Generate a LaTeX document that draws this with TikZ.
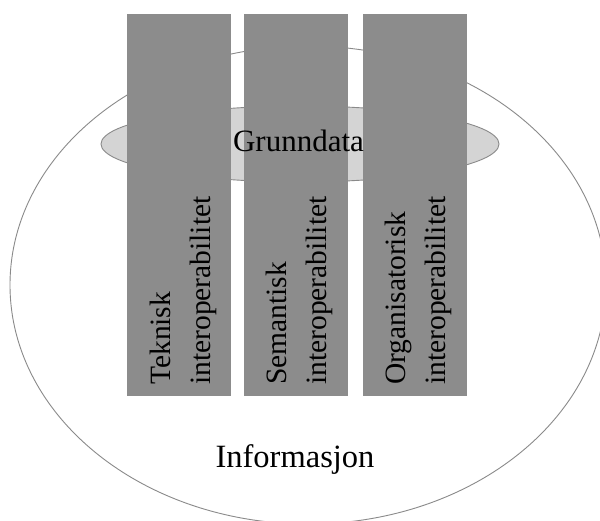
\documentclass[tikz,border=0pt]{standalone}
\usepackage{fontspec}
\setmainfont{Liberation Serif}
\usetikzlibrary{shapes.geometric}
\definecolor{colfill}{HTML}{8C8C8C}
\definecolor{gdfill}{HTML}{D4D4D4}
\definecolor{lineg}{HTML}{8A8A8A}
\tikzset{
  bigell/.style={draw=lineg, line width=0.9pt, fill=white, ellipse, inner sep=0pt,
    minimum width=596pt, minimum height=478pt},
  smallell/.style={draw=lineg, line width=0.9pt, fill=gdfill, ellipse, inner sep=0pt,
    minimum width=398pt, minimum height=76pt},
  pillar/.style={fill=colfill, draw=none, rectangle, inner sep=0pt,
    minimum width=104pt, minimum height=382pt},
  lbl/.style={text=black, inner sep=0pt, anchor=base},
  vlbl/.style={font=\fontsize{29.5}{36}\selectfont, text=black, inner sep=0pt, anchor=base west, rotate=90}
}
\begin{document}
\begin{tikzpicture}[x=1pt,y=-1pt]
\useasboundingbox (0,0) rectangle (600,521);
\clip (0,0) rectangle (600,521);
\node[bigell] (info) at (308,285) {};
\node[smallell] (grunn) at (300,144) {};
\node[pillar] (c1) at (179,205) {};
\node[pillar] (c2) at (295.5,205) {};
\node[pillar] (c3) at (415,205) {};
\node[lbl, font=\fontsize{31}{36}\selectfont] (gd) at (298.5,152) {Grunndata};
\node[vlbl] (t1) at (170,385) {Teknisk};
\node[vlbl] (t2) at (210,385) {interoperabilitet};
\node[vlbl] (s1) at (286,385) {Semantisk};
\node[vlbl] (s2) at (326,385) {interoperabilitet};
\node[vlbl] (o1) at (405,385) {Organisatorisk};
\node[vlbl] (o2) at (445,385) {interoperabilitet};
\node[lbl, font=\fontsize{32.5}{38}\selectfont] (inf) at (295,467) {Informasjon};
\end{tikzpicture}
\end{document}
